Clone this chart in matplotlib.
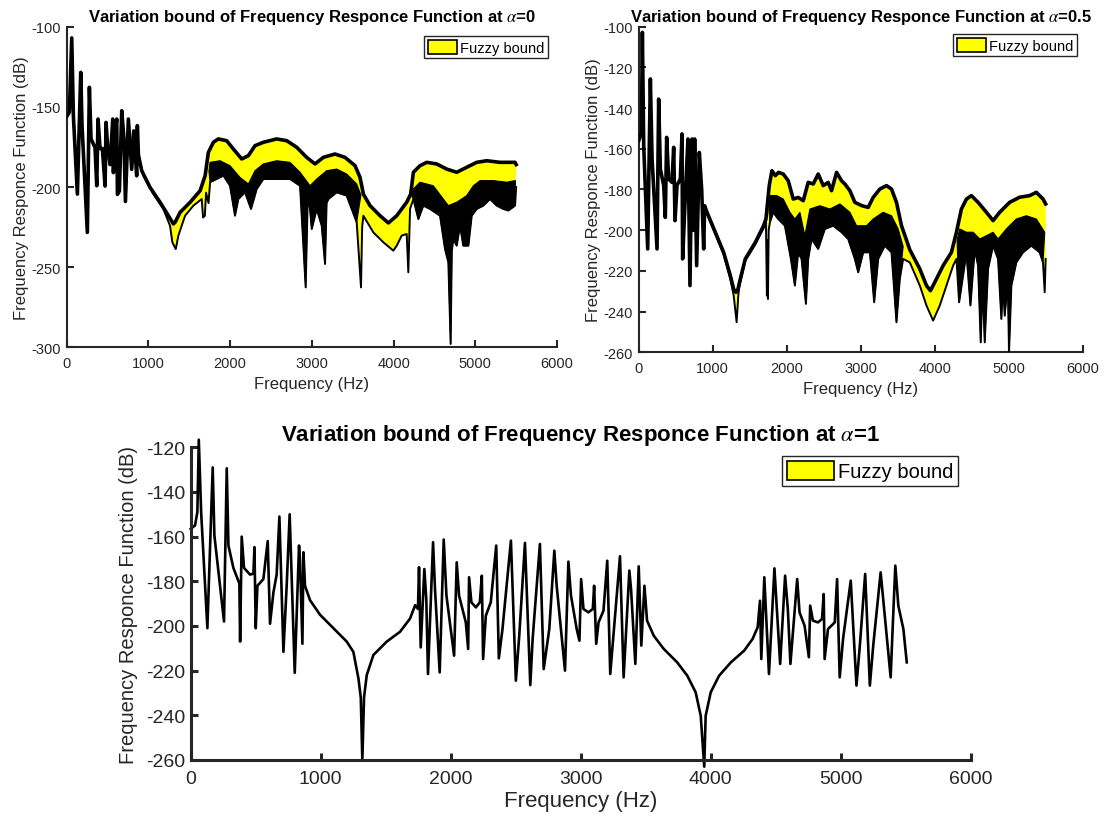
import numpy as np
import matplotlib
matplotlib.use("Agg")
import matplotlib.pyplot as plt
from matplotlib.patches import Patch

plt.rcParams['font.family'] = ['Liberation Sans', 'DejaVu Sans']
plt.rcParams['mathtext.fontset'] = 'stix'
plt.rcParams['axes.unicode_minus'] = False

# ---------------- alpha = 0 : (Hz, dB) ----------------
a0_lf = [(0, -156), (32, -153.4), (61, -107), (81, -155.5), (130, -204.4), (171, -128.5),
         (187, -161.7), (252, -228.3), (277, -137.8), (297, -170), (346, -175.3), (367, -199.2),
         (383, -157.6), (407, -176), (436, -176), (469, -199.4), (481, -159.7), (500, -175),
         (530, -186), (563, -157.6), (571, -191), (590, -165), (612, -157.6), (620, -204.6),
         (644, -202.5), (673, -152.4), (700, -170), (718, -209), (754, -157.6), (795, -189),
         (820, -165), (856, -193), (864, -161.7), (877, -180)]
a0_upper = [(917, -189.8), (1019, -200.2), (1142, -209.5), (1244, -217.9), (1305, -223),
            (1326, -222), (1387, -215.8), (1510, -209.5), (1632, -202.3), (1693, -193),
            (1733, -178.4), (1794, -172.1), (1855, -170), (1957, -171.1), (2039, -176.3),
            (2141, -182.5), (2223, -180.4), (2304, -174.2), (2406, -172.1), (2569, -170),
            (2692, -171.1), (2814, -175.2), (2936, -181.5), (3038, -185.6), (3140, -181.5),
            (3283, -179.4), (3405, -181.5), (3528, -186.7), (3589, -194), (3630, -204.4),
            (3711, -211.6), (3834, -217.9), (3936, -222.4), (4038, -217.9), (4160, -209.5),
            (4209, -204.4), (4242, -190.8), (4323, -186.7), (4405, -184.6), (4527, -185.6),
            (4650, -188.8), (4772, -190.8), (4894, -187.7), (5017, -184.6), (5139, -183.6),
            (5302, -184.6), (5486, -184.6), (5500, -186)]
a0_lower = [(938, -193), (1060, -204.4), (1183, -213.8), (1264, -224.2), (1293, -234.6),
            (1334, -238.7), (1366, -230.3), (1448, -217.9), (1550, -211.6), (1652, -207.5),
            (1668, -219), (1690, -218), (1705, -203.5), (1735, -210), (1754, -197), (1835, -195),
            (1917, -192.9), (1998, -199.2), (2059, -217.9), (2100, -207.5), (2182, -203.3),
            (2255, -213.7), (2325, -201.2), (2406, -195), (2569, -195), (2732, -195),
            (2855, -199.2), (2924, -262.6), (2950, -205), (2977, -213.7), (2998, -226.2),
            (3059, -213.7), (3120, -224.1), (3161, -248), (3180, -210), (3202, -207.5),
            (3304, -203.3), (3426, -205.4), (3548, -222), (3601, -262.6), (3615, -225),
            (3630, -217.9), (3752, -228.3), (3875, -234.5), (3997, -239.7), (4038, -236.6),
            (4099, -230.3), (4160, -229.3), (4180, -253.2), (4201, -213.7), (4242, -207.5),
            (4303, -220), (4364, -211.6), (4446, -213.7), (4568, -217.9), (4629, -238.7),
            (4670, -247), (4698, -297.9), (4712, -240), (4731, -232.4), (4772, -236.6),
            (4813, -224.1), (4853, -236.6), (4915, -236.6), (4956, -217.9), (5017, -213.7),
            (5098, -211.6), (5180, -207.5), (5262, -211.6), (5343, -213.7), (5404, -214.7),
            (5486, -211.6), (5500, -200)]
# bottom of the visible yellow inside the noisy parts
a0_inner1 = [(1740, -190), (1754, -184.6), (1876, -183.6), (1998, -186.7), (2120, -194),
             (2223, -198.1), (2304, -189.8), (2406, -185.6), (2569, -183.6), (2732, -184.6),
             (2855, -190.8), (2977, -199.2), (3059, -195), (3181, -189.8), (3304, -188.8),
             (3426, -191.9), (3548, -198.1), (3600, -205)]
a0_inner2 = [(4215, -205), (4242, -201.2), (4323, -197), (4486, -199.2), (4609, -207.5),
             (4670, -211.6), (4772, -209.5), (4894, -205.4), (4976, -199.2), (5058, -196),
             (5221, -196), (5384, -197), (5490, -196)]

# ---------------- alpha = 0.5 ----------------
a5_lf = [(0, -156), (36, -152), (49, -102.8), (67, -158.5), (121, -209.2), (157, -125.7),
         (180, -165), (247, -209.2), (269, -135.6), (292, -170), (337, -178), (359, -193.7),
         (377, -154.4), (404, -174.8), (449, -176.5), (472, -159.3), (490, -195.3), (517, -178),
         (562, -174.8), (584, -152.7), (593, -214.1), (629, -183), (665, -155.2), (692, -227.2),
         (719, -155.2), (740, -200), (755, -155.2), (782, -217.4), (818, -161.8), (850, -180),
         (877, -209.2), (890, -188)]
a5_upper = [(922, -191.2), (1034, -201), (1147, -210.9), (1237, -222.3), (1282, -228.9),
            (1313, -230.5), (1340, -229), (1358, -226), (1439, -214.1), (1574, -206),
            (1686, -197.8), (1718, -194.5), (1763, -178), (1799, -170.8), (1844, -173.2),
            (1889, -171.6), (1952, -172.4), (2019, -175.7), (2087, -184.7), (2154, -183.9),
            (2222, -185.5), (2289, -176.5), (2357, -177.3), (2424, -172.4), (2492, -178.1),
            (2559, -176.5), (2604, -180.6), (2672, -171.6), (2739, -175.7), (2784, -177.3),
            (2852, -180.6), (2919, -186.3), (3009, -187.9), (3099, -188.8), (3166, -183.9),
            (3256, -179.8), (3346, -178.1), (3414, -179.8), (3481, -186.3), (3549, -197.8),
            (3661, -209.6), (3796, -219), (3886, -227.2), (3940, -229.7), (3998, -225.6),
            (4111, -217.4), (4223, -210.9), (4291, -201), (4358, -189.6), (4426, -184.7),
            (4493, -183), (4583, -186.3), (4696, -191.2), (4786, -195.3), (4875, -191.2),
            (5010, -186.3), (5145, -183.8), (5280, -183), (5370, -181.4), (5460, -184.7),
            (5496, -187.1)]
a5_lower = [(922, -192), (1034, -202), (1147, -212), (1237, -224), (1282, -232), (1322, -245.2),
            (1345, -232), (1358, -228), (1439, -215), (1574, -207), (1686, -199), (1718, -196),
            (1731, -232.1), (1738, -205), (1745, -233.8), (1755, -200), (1772, -196.1),
            (1817, -191.2), (1884, -194.5), (1974, -197.8), (2055, -214.1), (2109, -227.2),
            (2154, -210.9), (2199, -214.1), (2258, -236.2), (2289, -214.1), (2334, -204.3),
            (2424, -209.2), (2514, -199.4), (2627, -197.8), (2739, -201), (2829, -204.3),
            (2919, -214.1), (2964, -220.7), (3032, -210.9), (3122, -210.9), (3180, -235.4),
            (3234, -214.1), (3324, -207.6), (3414, -210.9), (3481, -245.2), (3526, -224),
            (3571, -214.1), (3661, -215.8), (3796, -227.2), (3886, -237), (3976, -244.4),
            (4066, -237), (4156, -227.2), (4246, -217.4), (4291, -214.1), (4327, -235.4),
            (4381, -222.3), (4426, -210.9), (4480, -237), (4538, -209.2), (4583, -217.4),
            (4619, -255.1), (4645, -225), (4673, -255.1), (4718, -219), (4786, -207.6),
            (4853, -214.1), (4898, -243.6), (4920, -225), (4943, -242), (4985, -225),
            (5001, -260), (5033, -227.2), (5100, -215.8), (5190, -210.9), (5303, -207.6),
            (5415, -210.9), (5460, -215.8), (5483, -230.5), (5496, -214.1)]
a5_inner1 = [(1760, -190), (1772, -183), (1862, -183), (1952, -184.7), (2042, -191.2),
             (2109, -194.5), (2177, -191.2), (2244, -202.7), (2312, -189.6), (2447, -188),
             (2582, -189.6), (2717, -187.1), (2852, -191.2), (2942, -197.8), (3077, -197.8),
             (3166, -194.5), (3301, -191.2), (3414, -192.9), (3504, -199.4), (3571, -208)]
a5_inner2 = [(4300, -205), (4336, -199.4), (4426, -201), (4516, -201), (4606, -204.3),
             (4696, -202.7), (4786, -201), (4853, -204.3), (4965, -199.4), (5100, -194.5),
             (5235, -192.9), (5370, -194.5), (5483, -201)]

# ---------------- alpha = 1 (crisp FRF) ----------------
a1_frf = [(0, -156.5), (33, -155), (51, -149), (62, -116.6), (80, -149), (128, -201),
          (169, -129), (182, -159.5), (256, -198), (277, -129.4), (290, -164), (328, -174),
          (374, -181), (380, -207), (392, -160), (410, -174), (456, -177), (482, -176.6),
          (490, -164.7), (500, -201), (513, -182), (559, -179), (592, -162), (610, -199),
          (636, -185), (661, -177), (682, -151), (713, -211.6), (738, -182), (761, -150),
          (800, -221), (833, -164), (841, -171), (859, -208), (867, -167), (879, -182),
          (918, -188.5), (995, -195), (1097, -201), (1200, -207), (1251, -211.6), (1290, -223.5),
          (1308, -232), (1320, -260), (1333, -232), (1354, -222), (1405, -213), (1508, -207),
          (1610, -202.6), (1687, -196.7), (1726, -190.7), (1748, -192.4), (1756, -173.7),
          (1769, -209.6), (1797, -174.5), (1812, -188), (1825, -221.5), (1864, -162.5),
          (1879, -183.5), (1915, -220.8), (1946, -161.3), (1967, -186.4), (2026, -213.3),
          (2046, -171.5), (2064, -186.4), (2116, -198.4), (2134, -210.3), (2141, -178.2),
          (2159, -189.4), (2193, -191.7), (2224, -189.4), (2239, -177.5), (2249, -214.8),
          (2270, -195.4), (2308, -189.4), (2350, -164), (2370, -214.5), (2398, -201.4),
          (2463, -161.8), (2501, -224.5), (2527, -204.4), (2571, -162.8), (2612, -226.5),
          (2630, -205.8), (2686, -163.3), (2715, -219.3), (2758, -201.4), (2797, -166.3),
          (2815, -182), (2879, -220), (2905, -171.2), (2925, -186.4), (2969, -201.4),
          (2990, -206.6), (3003, -179), (3021, -192.4), (3059, -193.9), (3093, -192.4),
          (3103, -182), (3119, -208), (3137, -198.4), (3175, -193.2), (3204, -170.8),
          (3227, -221.5), (3302, -168.8), (3330, -223), (3374, -175.2), (3387, -183.5),
          (3420, -217), (3446, -173.3), (3466, -208.8), (3490, -182), (3510, -197.6),
          (3562, -204.4), (3639, -210.3), (3742, -216.3), (3820, -222.3), (3884, -229.7),
          (3923, -240.2), (3950, -263), (3961, -240.2), (4000, -229.7), (4064, -222.3),
          (4155, -216.3), (4258, -211), (4322, -205.8), (4361, -200.6), (4379, -188.7),
          (4389, -214.8), (4412, -178.2), (4448, -221.5), (4490, -174.2), (4534, -217),
          (4572, -177.5), (4593, -192.4), (4613, -217), (4665, -179), (4683, -193.9),
          (4722, -199.9), (4755, -214), (4765, -190.9), (4786, -197.6), (4825, -198.4),
          (4856, -196.9), (4869, -185.7), (4876, -214.8), (4902, -201.4), (4954, -198.4),
          (4972, -179), (4992, -223), (5018, -205.8), (5077, -179.7), (5121, -226.7),
          (5147, -208.8), (5188, -176.7), (5224, -226.7), (5250, -208.8), (5307, -176),
          (5384, -223), (5397, -204.4), (5420, -173), (5443, -190.9), (5482, -201.4),
          (5508, -216.3)]

xticks = [0, 1000, 2000, 3000, 4000, 5000, 6000]
title_txt = r"Variation bound of Frequency Responce Function at $\alpha$=%s"
AXC = '#262626'


def style_axes(ax, fs, lw, xpad, ypad):
    for s in ['top', 'right']:
        ax.spines[s].set_visible(False)
    for s in ['left', 'bottom']:
        ax.spines[s].set_linewidth(lw)
        ax.spines[s].set_color(AXC)
    ax.tick_params(direction='in', length=5, width=lw, labelsize=fs, colors=AXC, labelcolor=AXC)
    ax.tick_params(axis='x', pad=xpad)
    ax.tick_params(axis='y', pad=ypad)
    ax.set_xticks(xticks)
    ax.set_xlim(0, 6000)


def add_legend(ax, fs, anchor, hl):
    h = [Patch(facecolor='yellow', edgecolor='black', linewidth=1.2)]
    leg = ax.legend(h, ['Fuzzy bound'], loc='upper right', bbox_to_anchor=anchor,
                    fontsize=fs, fancybox=False, framealpha=1, borderaxespad=0,
                    borderpad=0.25, handletextpad=0.2, handlelength=hl, handleheight=1.1)
    leg.get_frame().set_edgecolor(AXC)
    leg.get_frame().set_linewidth(1.0)


def fuzzy_panel(ax, lf, up_tail, lo_tail, inner_segs):
    up = np.array(lf + up_tail, dtype=float)
    lo = np.array(lf + lo_tail, dtype=float)
    poly = np.vstack([up, lo[::-1]])
    ax.fill(poly[:, 0], poly[:, 1], color='yellow', lw=0, zorder=1)
    # dense black noise under the yellow
    for seg in inner_segs:
        seg = np.array(seg, dtype=float)
        m = (lo[:, 0] > seg[0, 0]) & (lo[:, 0] < seg[-1, 0])
        band = np.vstack([seg, lo[m][::-1]])
        ax.fill(band[:, 0], band[:, 1], color='black', lw=0.8, zorder=2)
    ax.plot(up[:, 0], up[:, 1], color='black', lw=2.6, zorder=3)
    ax.plot(lo[:, 0], lo[:, 1], color='black', lw=1.4, zorder=3)


fig = plt.figure(figsize=(11.07, 8.2), dpi=100)

# alpha = 0
ax1 = fig.add_axes([0.0603, 0.5752, 0.4429, 0.3910])
fuzzy_panel(ax1, a0_lf, a0_upper, a0_lower, [a0_inner1, a0_inner2])
style_axes(ax1, 10.5, 1.5, 6.5, 4)
ax1.set_ylim(-300, -100)
ax1.set_yticks(np.arange(-300, -99, 50))
ax1.set_xlabel("Frequency (Hz)", fontsize=12, color=AXC, labelpad=4)
ax1.set_ylabel("Frequency Responce Function (dB)", fontsize=12, color=AXC, labelpad=2)
ax1.set_title(title_txt % "0", fontsize=12, fontweight='bold', pad=4)
add_legend(ax1, 10.5, (0.982, 0.971), 2.0)

# alpha = 0.5
ax2 = fig.add_axes([0.5770, 0.5691, 0.4013, 0.3972])
fuzzy_panel(ax2, a5_lf, a5_upper, a5_lower, [a5_inner1, a5_inner2])
style_axes(ax2, 10.5, 1.5, 6.5, 4)
ax2.set_ylim(-260, -100)
ax2.set_yticks(np.arange(-260, -99, 20))
ax2.set_xlabel("Frequency (Hz)", fontsize=12, color=AXC, labelpad=4)
ax2.set_ylabel("Frequency Responce Function (dB)", fontsize=12, color=AXC, labelpad=2)
ax2.set_title(title_txt % "0.5", fontsize=12, fontweight='bold', pad=4)
add_legend(ax2, 10.5, (0.9865, 0.977), 2.0)

# alpha = 1
ax3 = fig.add_axes([0.1723, 0.0720, 0.7046, 0.3813])
frf = np.array(a1_frf, dtype=float)
ax3.plot(frf[:, 0], frf[:, 1], color='black', lw=1.9, clip_on=False)
style_axes(ax3, 14, 2.2, 7.5, 4)
ax3.set_ylim(-260, -120)
ax3.set_yticks(np.arange(-260, -119, 20))
ax3.set_xlabel("Frequency (Hz)", fontsize=16, color=AXC, labelpad=2)
ax3.set_ylabel("Frequency Responce Function (dB)", fontsize=14.5, color=AXC, labelpad=6)
ax3.set_title(title_txt % "1", fontsize=16, fontweight='bold', pad=5)
add_legend(ax3, 14.5, (0.984, 0.973), 2.3)

fig.savefig("out.png", dpi=100)
